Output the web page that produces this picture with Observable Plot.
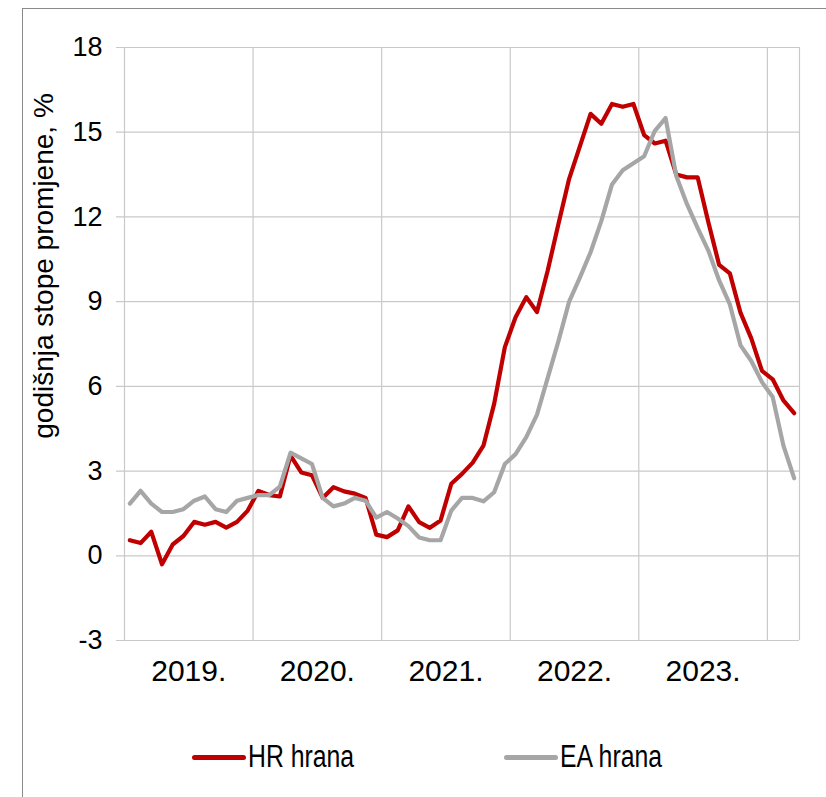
<!DOCTYPE html>
<html>
<head>
<meta charset="utf-8">
<script src="https://cdn.jsdelivr.net/npm/d3@7"></script>
<script src="https://cdn.jsdelivr.net/npm/@observablehq/plot@0.6"></script>
<style>
  html, body { margin: 0; padding: 0; background: #fff; }
  #wrap { position: relative; width: 826px; height: 797px; overflow: hidden; }
  #frame { position: absolute; left: 22px; top: 8px; right: -2px; bottom: -2px;
           border-top: 1.5px solid #8a8a8a; border-left: 1.5px solid #8a8a8a; }
  #chart { position: absolute; left: 0; top: 0; }
  .leg { position: absolute; top: 740px; height: 34px; display: flex; align-items: center; }
  .leg .sw { width: 54px; height: 5px; border-radius: 3px; }
  .leg .lbl { font-family: "Liberation Sans", Arial, sans-serif; font-size: 31px; color: #000;
              margin-left: 2px; line-height: 34px; display: inline-block;
              transform: scaleX(0.8); transform-origin: left center; white-space: nowrap; }
</style>
</head>
<body>
<div id="wrap">
  <div id="frame"></div>
  <div id="chart"></div>
  <div id="legend"></div>
</div>
<script>
// ---- data ----
const seriesNames = ["HR hrana", "EA hrana"];
const seriesColors = ["#c00000", "#a6a6a6"];
const yearLabels = ["2019.", "2020.", "2021.", "2022.", "2023."];
const yTicks = [-3, 0, 3, 6, 9, 12, 15, 18];
const yLabel = "godišnja stope promjene, %";

// monthly categories Jan 2019 - Mar 2024
const months = [
  "2019-01","2019-02","2019-03","2019-04","2019-05","2019-06","2019-07","2019-08","2019-09","2019-10","2019-11","2019-12",
  "2020-01","2020-02","2020-03","2020-04","2020-05","2020-06","2020-07","2020-08","2020-09","2020-10","2020-11","2020-12",
  "2021-01","2021-02","2021-03","2021-04","2021-05","2021-06","2021-07","2021-08","2021-09","2021-10","2021-11","2021-12",
  "2022-01","2022-02","2022-03","2022-04","2022-05","2022-06","2022-07","2022-08","2022-09","2022-10","2022-11","2022-12",
  "2023-01","2023-02","2023-03","2023-04","2023-05","2023-06","2023-07","2023-08","2023-09","2023-10","2023-11","2023-12",
  "2024-01","2024-02","2024-03"
];

const hrFood = [
  0.55, 0.45, 0.85, -0.3, 0.4, 0.7, 1.2, 1.1, 1.2, 1.0, 1.2, 1.6,
  2.3, 2.15, 2.1, 3.55, 2.95, 2.85, 2.05, 2.43, 2.28, 2.2, 2.05, 0.75,
  0.66, 0.9, 1.75, 1.19, 0.99, 1.25, 2.55, 2.9, 3.3, 3.9, 5.38, 7.39,
  8.45, 9.16, 8.63, 10.1, 11.75, 13.35, 14.5, 15.65, 15.3, 16.0, 15.9, 16.0,
  14.9, 14.6, 14.7, 13.5, 13.4, 13.4, 11.8, 10.3, 10.0, 8.6, 7.7, 6.55,
  6.25, 5.5, 5.05
];

const eaFood = [
  1.85, 2.3, 1.85, 1.55, 1.55, 1.65, 1.95, 2.1, 1.65, 1.55, 1.95, 2.05,
  2.15, 2.15, 2.45, 3.65, 3.45, 3.25, 2.05, 1.75, 1.85, 2.05, 1.95, 1.35,
  1.55, 1.32, 1.05, 0.65, 0.55, 0.55, 1.6, 2.05, 2.05, 1.93, 2.25, 3.25,
  3.6, 4.2, 5.0, 6.3, 7.6, 9.0, 9.85, 10.75, 11.85, 13.15, 13.65, 13.9,
  14.15, 15.05, 15.5, 13.45, 12.45, 11.6, 10.8, 9.75, 8.9, 7.45, 6.9, 6.15,
  5.62, 3.9, 2.75
];

// ---- derived tables ----
const rows = months.map((m, i) => ({m, i, hr: hrFood[i], ea: eaFood[i]}));
const yearStarts = months.map((m, i) => m.endsWith("-01") ? i : -1).filter(i => i >= 0);
const bounds = [...yearStarts, months.length];
const labelRows = yearLabels.map(l => ({l, i: months.indexOf(l.slice(0, 4) + "-01")}));

const sans = '"Liberation Sans", Arial, sans-serif';
const grid = "#c9c9c9";

const chart = Plot.plot({
  width: 826,
  height: 700,
  marginLeft: 124,
  marginRight: 27,
  marginTop: 47,
  marginBottom: 60,
  x: {domain: [0, months.length], axis: null},
  y: {domain: [-3, 18], axis: null},
  style: {fontFamily: sans, background: "transparent", color: "#000"},
  marks: [
    Plot.ruleY(yTicks, {y: d => d, stroke: grid, strokeWidth: 1.2, insetLeft: -8}),
    Plot.ruleX(bounds, {x: d => d, y1: -3, y2: 18, stroke: grid, strokeWidth: 1.2}),
    Plot.text(yTicks, {x: 0, y: d => d, text: d => String(d), textAnchor: "end", dx: -22,
      fontSize: 27, fill: "#000", ariaLabel: "ytick-labels"}),
    Plot.text(labelRows, {x: d => d.i + 6, y: -3, text: d => d.l, dy: 31, fontSize: 30, fill: "#000",
      ariaLabel: "year-labels"}),
    Plot.line(rows, {x: d => d.i + 0.5, y: "hr", stroke: seriesColors[0], strokeWidth: 4.2}),
    Plot.line(rows, {x: d => d.i + 0.5, y: "ea", stroke: seriesColors[1], strokeWidth: 4.2}),
    Plot.text([yLabel], {text: d => d, frameAnchor: "left", textAnchor: "middle", rotate: -90,
      dx: -80, dy: -78, fontFamily: sans, fontSize: 28, fill: "#000"})
  ]
});
document.getElementById("chart").appendChild(chart);

// narrow (Arial Narrow-like) look for tick and year labels
function condense(selector, k) {
  chart.querySelectorAll(selector).forEach(t => {
    const x = t.getAttribute("x"), y = t.getAttribute("y");
    let tr = t.getAttribute("transform") || "";
    if (x !== null || y !== null) {
      tr = `translate(${x || 0},${y || 0}) ` + tr;
      t.removeAttribute("x");
      t.removeAttribute("y");
    }
    t.setAttribute("transform", `${tr} scale(${k},1)`);
  });
}
condense('g[aria-label="ytick-labels"] text', 0.83);
condense('g[aria-label="year-labels"] text', 0.8);

// legend (below the plot)
const legend = document.getElementById("legend");
const legLefts = [192, 504];
seriesNames.forEach((name, k) => {
  const item = document.createElement("div");
  item.className = "leg";
  item.style.left = legLefts[k] + "px";
  item.innerHTML = `<div class="sw" style="background:${seriesColors[k]}"></div><span class="lbl">${name}</span>`;
  legend.appendChild(item);
});
</script>
</body>
</html>
